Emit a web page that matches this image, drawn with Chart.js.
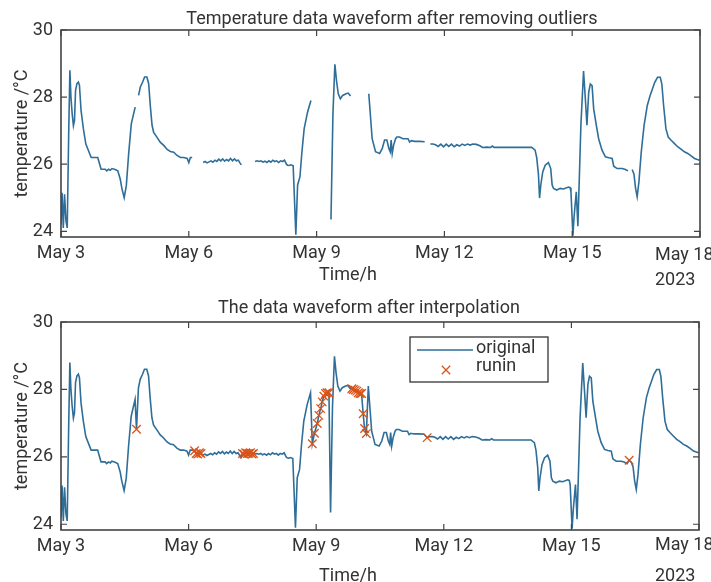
<!DOCTYPE html>
<html>
<head>
<meta charset="utf-8">
<script src="https://cdn.jsdelivr.net/npm/chart.js@4.4.1/dist/chart.umd.min.js"></script>
<style>
  html, body { margin: 0; padding: 0; background: #fff; }
  canvas { display: block; }
</style>
</head>
<body>
<canvas id="topChart" width="711" height="291"></canvas>
<canvas id="bottomChart" width="711" height="291"></canvas>
<script>
// hours since May 3 00:00, temperatures in degC; null = removed outlier (gap)
const cleanHours = [
  0.0, 0.6, 1.3, 2.0, 2.8, 3.5, 4.3, 5.0, 5.6, 6.3, 7.0, 7.6, 8.2, 9.0, 9.8, 10.4, 11.3, 12.6, 14.0, 15.5,
  17.0, 19.2, 20.7, 21.5, 22.6, 24.9, 25.8, 26.8, 27.8, 28.7, 30.5, 32.0, 33.4, 34.3, 35.6, 36.8, 38.1, 39.6, 40.9, 41.8,
  42.7,
  43.7, 44.7, 46.0, 47.1, 48.4, 49.4, 50.3, 51.3, 52.2, 54.1, 56.0, 57.9, 59.8, 61.6, 63.5, 65.4, 67.3, 69.2, 71.1, 72.0, 72.9, 73.9,
  77.0,
  80.1, 81.2, 82.3, 83.4, 84.5, 85.6, 86.7, 87.8, 88.9, 90.0, 91.1, 92.2, 93.3, 94.4, 95.5, 96.6, 97.7, 98.8, 99.9, 100.8, 101.6,
  105.0,
  109.3, 110.5, 111.6, 112.7, 113.8, 114.9, 116.0, 117.1, 118.2, 119.3, 120.4, 121.5, 122.6, 123.7, 124.8, 125.9, 127.0, 127.6,
  128.5, 129.5, 130.8, 131.5, 132.3, 133.3, 134.6, 135.7, 137.0, 138.9, 140.8,
  146.0,
  152.1, 153.2, 154.3, 155.2, 156.2, 157.4, 158.7, 160.6, 161.8, 163.1,
  168.0,
  173.4, 175.3, 177.2, 179.5, 181.0, 182.3, 183.6, 184.7, 185.5, 186.0, 186.6, 187.4, 188.5, 189.2, 190.7, 192.6, 195.5, 196.4,
  197.4, 199.2, 202.0, 204.9,
  206.5,
  208.1, 209.5, 211.0, 212.5, 214.0, 215.5, 217.0, 218.5, 220.0, 221.5, 223.0, 224.5, 226.0, 227.5, 229.0, 230.5, 232.0, 234.0,
  236.0, 237.5, 240.0, 242.0, 243.0, 244.0, 250.0, 256.0, 262.0, 265.2, 267.1, 268.0, 269.0, 269.6, 270.3, 271.4, 272.8, 274.6,
  275.9, 276.7, 277.5, 279.3, 281.2, 283.1, 285.9, 286.8, 287.3, 288.4, 289.0, 290.3, 291.2, 292.9, 294.4, 295.4, 296.3, 297.3,
  298.2, 299.2, 300.1, 301.6, 302.9, 304.8, 306.7, 308.6, 310.5, 311.4, 313.3, 316.2, 318.0, 319.4,
  320.6,
  321.8, 322.8, 323.7, 324.6, 325.6, 326.9, 328.5, 330.3, 331.9, 333.2, 334.5, 336.1, 337.6, 338.5, 339.5, 340.8, 342.1, 343.6,
  345.5, 347.4, 349.3, 351.2, 353.1, 355.0, 356.9, 359.7
];
const cleanTemp = [
  24.2, 25.15, 24.1, 25.1, 24.3, 24.1, 26.8, 28.8, 28.0, 27.5, 27.15, 27.3, 28.2, 28.4, 28.45, 28.35, 27.6, 27.06, 26.6, 26.4,
  26.2, 26.2, 26.2, 26.05, 25.85, 25.85, 25.8, 25.85, 25.82, 25.87, 25.84, 25.8, 25.55, 25.28, 25.0, 25.36, 26.3, 27.2, 27.5, 27.7,
  null,
  28.05, 28.3, 28.45, 28.6, 28.6, 28.4, 27.75, 27.16, 26.95, 26.8, 26.65, 26.56, 26.44, 26.38, 26.36, 26.26, 26.2, 26.2, 26.17, 26.05, 26.2, 26.2,
  null,
  26.05, 26.08, 26.04, 26.07, 26.1, 26.06, 26.12, 26.08, 26.15, 26.1, 26.16, 26.09, 26.14, 26.1, 26.17, 26.1, 26.16, 26.1, 26.12, 26.04, 25.98,
  null,
  26.08, 26.1, 26.08, 26.1, 26.06, 26.09, 26.05, 26.1, 26.06, 26.12, 26.08, 26.1, 26.05, 26.1, 26.08, 26.12, 26.0, 25.97,
  25.96, 25.98, 25.95, 25.0, 23.9, 25.38, 25.62, 26.35, 27.06, 27.55, 27.9,
  null,
  24.35, 27.5, 28.98, 28.5, 28.1, 27.95, 28.05, 28.1, 28.12, 28.03,
  null,
  28.1, 26.76, 26.37, 26.32, 26.47, 26.72, 26.72, 26.47, 26.37, 26.72, 26.32, 26.57, 26.76, 26.81, 26.81, 26.76, 26.76, 26.66,
  26.7, 26.68, 26.68, 26.67,
  null,
  26.6, 26.6, 26.58, 26.53, 26.6, 26.52, 26.6, 26.53, 26.6, 26.52, 26.58, 26.54, 26.6, 26.56, 26.6, 26.57, 26.6, 26.59,
  26.55, 26.5, 26.51, 26.5, 26.54, 26.5, 26.5, 26.5, 26.5, 26.5, 26.42, 26.2, 25.68, 24.99, 25.38, 25.77, 25.97, 26.05,
  25.87, 25.38, 25.28, 25.23, 25.28, 25.26, 25.32, 25.3, 25.18, 23.87, 24.4, 25.18, 24.15, 27.16, 28.78, 27.95, 27.16, 28.14,
  28.39, 28.34, 27.65, 27.16, 26.76, 26.42, 26.22, 26.19, 26.17, 25.94, 25.87, 25.87, 25.84, 25.8,
  null,
  25.84, 25.7, 25.28, 25.03, 25.48, 26.36, 27.16, 27.75, 28.05, 28.24, 28.44, 28.59, 28.59, 28.39, 27.75, 27.06, 26.81, 26.72,
  26.62, 26.52, 26.45, 26.37, 26.32, 26.25, 26.17, 26.12
];

// values filled in by interpolation ("runin")
const runinHours = [
  42.6, 75.4, 76.3, 77.2, 78.1, 79.0, 102.4, 103.3, 104.2, 105.1, 106.0, 106.9, 107.8, 108.6,
  141.8, 143.0, 144.6, 145.5, 146.5, 147.4, 148.3, 149.3, 150.2, 151.2,
  164.1, 165.0, 166.0, 166.9, 167.8, 168.7, 169.6, 170.5, 171.3, 172.3, 206.6, 320.6
];
const runinTemp = [
  26.82, 26.18, 26.1, 26.08, 26.12, 26.1, 26.1, 26.08, 26.12, 26.1, 26.1, 26.12, 26.08, 26.1,
  26.39, 26.7, 26.99, 27.23, 27.43, 27.63, 27.8, 27.88, 27.9, 27.9,
  28.02, 28.0, 27.98, 27.95, 27.9, 27.88, 27.88, 27.28, 26.84, 26.69, 26.57, 25.9
];

const tickHours = [0, 72, 144, 216, 288, 360];
const dayLabels = ['May 3', 'May 6', 'May 9', 'May 12', 'May 15', 'May 18'];
const yearLabel = '2023';
const yTicks = [24, 26, 28, 30];
const topTitle = 'Temperature data waveform after removing outliers';
const bottomTitle = 'The data waveform after interpolation';
const xTitle = 'Time/h';
const yTitle = 'temperature /°C';
const legendNames = ['original', 'runin'];

const LINE = '#2e6e98';
const MARK = '#d95319';
const TEXT = '#333333';
const FONT = 'Roboto';

const cleanPoints = cleanHours.map((h, i) => ({ x: h, y: cleanTemp[i] }));
const runinPoints = runinHours.map((h, i) => ({ x: h, y: runinTemp[i] }));
// original curve after interpolation = kept samples + filled samples
const filledPoints = cleanPoints.filter(p => p.y !== null).concat(runinPoints).sort((a, b) => a.x - b.x);

const matlabBox = {
  id: 'matlabBox',
  afterDraw(chart, args, o) {
    const { ctx, chartArea: a, scales } = chart;
    const x = scales.x, y = scales.y;
    ctx.save();
    ctx.strokeStyle = '#444';
    ctx.lineWidth = 1.2;
    ctx.beginPath();
    tickHours.forEach(v => {
      const px = x.getPixelForValue(v);
      ctx.moveTo(px, a.bottom); ctx.lineTo(px, a.bottom - 6);
      ctx.moveTo(px, a.top); ctx.lineTo(px, a.top + 6);
    });
    yTicks.forEach(v => {
      const py = y.getPixelForValue(v);
      ctx.moveTo(a.left, py); ctx.lineTo(a.left + 6, py);
      ctx.moveTo(a.right, py); ctx.lineTo(a.right - 6, py);
    });
    ctx.stroke();
    ctx.lineWidth = 1.6;
    ctx.strokeRect(a.left, a.top, a.right - a.left, a.bottom - a.top);

    ctx.fillStyle = TEXT;
    ctx.textBaseline = 'middle';
    ctx.textAlign = 'center';
    ctx.font = '18px ' + FONT;
    ctx.fillText(o.title, o.titleX, o.titleY);
    ctx.fillText(xTitle, o.xTitleX, o.xTitleY);
    ctx.textAlign = 'left';
    ctx.fillText(dayLabels[dayLabels.length - 1], o.lastX, o.lastY);
    ctx.fillText(yearLabel, o.lastX, o.yearY);

    if (o.legend) {
      const L = o.legend;
      ctx.fillStyle = '#fff';
      ctx.fillRect(L.x, L.y, L.w, L.h);
      ctx.strokeStyle = '#333';
      ctx.lineWidth = 1.3;
      ctx.strokeRect(L.x, L.y, L.w, L.h);
      ctx.strokeStyle = LINE;
      ctx.lineWidth = 1.6;
      ctx.beginPath();
      ctx.moveTo(L.x + 7, L.y + 13); ctx.lineTo(L.x + 63, L.y + 13);
      ctx.stroke();
      ctx.strokeStyle = MARK;
      ctx.lineWidth = 1.3;
      const mx = L.x + 36, my = L.y + 33, d = 4.2;
      ctx.beginPath();
      ctx.moveTo(mx - d, my - d); ctx.lineTo(mx + d, my + d);
      ctx.moveTo(mx + d, my - d); ctx.lineTo(mx - d, my + d);
      ctx.stroke();
      ctx.fillStyle = TEXT;
      ctx.font = '18px ' + FONT;
      ctx.fillText(legendNames[0], L.x + 66, L.y + 11);
      ctx.fillText(legendNames[1], L.x + 66, L.y + 29);
    }
    ctx.restore();
  }
};

function makeChart(id, datasets, box, area) {
  const tickFont = { family: FONT, size: 18 };
  return new Chart(document.getElementById(id), {
    type: 'line',
    data: { datasets: datasets },
    options: {
      responsive: false,
      animation: false,
      layout: { padding: { top: area.top, right: area.right, left: 0, bottom: 0 }, autoPadding: false },
      plugins: { legend: { display: false }, tooltip: { enabled: false }, matlabBox: box },
      scales: {
        x: {
          type: 'linear', min: 0, max: 360,
          afterBuildTicks: s => { s.ticks = tickHours.map(v => ({ value: v })); },
          ticks: {
            autoSkip: false, maxRotation: 0, color: TEXT, font: tickFont, padding: 6,
            callback: v => { const i = tickHours.indexOf(v); return i === tickHours.length - 1 ? '' : dayLabels[i]; }
          },
          grid: { display: false, drawTicks: false },
          border: { display: false },
          afterFit: s => { s.height = area.xHeight; }
        },
        y: {
          min: 23.83, max: 30,
          afterBuildTicks: s => { s.ticks = yTicks.map(v => ({ value: v })); },
          ticks: { color: TEXT, font: tickFont, padding: 8 },
          grid: { display: false, drawTicks: false },
          border: { display: false },
          title: { display: true, text: yTitle, color: TEXT, font: { family: FONT, size: 18 }, padding: { top: 12, bottom: 0 } },
          afterFit: s => { s.width = 61; }
        }
      }
    },
    plugins: [matlabBox]
  });
}

makeChart('topChart', [
  { label: legendNames[0], data: cleanPoints, borderColor: LINE, borderWidth: 1.6, pointRadius: 0, tension: 0, spanGaps: false }
], {
  title: topTitle, titleX: 392, titleY: 19,
  xTitleX: 348, xTitleY: 275, lastX: 655, lastY: 255, yearY: 280
}, { top: 30, right: 11, xHeight: 54 });

makeChart('bottomChart', [
  { label: legendNames[0], data: filledPoints, borderColor: LINE, borderWidth: 1.6, pointRadius: 0, tension: 0, order: 1 },
  { label: legendNames[1], data: runinPoints, showLine: false, borderColor: MARK, backgroundColor: MARK,
    pointStyle: 'crossRot', pointRadius: 6, borderWidth: 1.3, order: 0 }
], {
  title: bottomTitle, titleX: 369, titleY: 17,
  xTitleX: 348, xTitleY: 285, lastX: 655, lastY: 254, yearY: 285,
  legend: { x: 410, y: 46, w: 138, h: 45 }
}, { top: 31, right: 12, xHeight: 52 });
</script>
</body>
</html>
